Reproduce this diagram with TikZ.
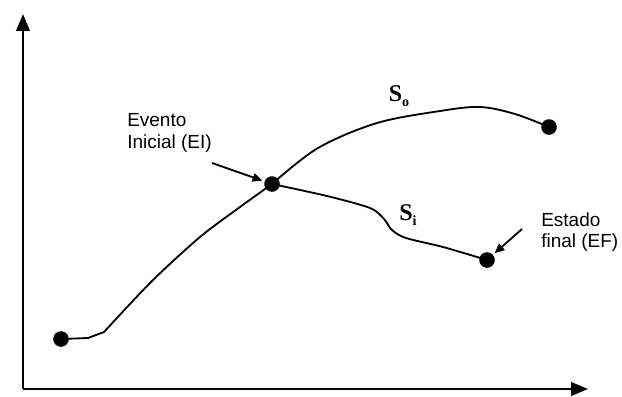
\documentclass[tikz,border=0pt]{standalone}
\usepackage{fontspec}
\setmainfont{Liberation Sans}
\newfontfamily\timesfont{Liberation Serif}
\usetikzlibrary{arrows.meta}

\begin{document}
\begin{tikzpicture}[x=0.025cm, y=-0.025cm, line join=round,
  font=\fontsize{13.5}{15.6}\selectfont,
  dot/.style={circle, fill=black, inner sep=0pt, minimum size=0.39cm},
  curve/.style={line width=1.3pt},
  axis/.style={line width=1.9pt, -{Triangle[length=12pt, width=9.5pt]}},
  pointer/.style={line width=1.3pt, shorten >=1.5pt, -{Triangle[length=7pt, width=6pt]}},
  lbl/.style={anchor=north west, align=left, inner sep=0pt},
  sname/.style={inner sep=0pt, font=\timesfont\bfseries\fontsize{17}{17}\selectfont}]
  \useasboundingbox (0,0) rectangle (622,396);
  % axes
  \coordinate (origin) at (23,389);
  \coordinate (ytip) at (23,14);
  \coordinate (xtip) at (588,389);
  \draw[axis] (origin) -- (ytip);
  \draw[axis] (origin) -- (xtip);
  % states
  \node[dot] (start) at (61,339) {};
  \node[dot] (ei) at (272,184) {};
  \node[dot] (so) at (549,127) {};
  \node[dot] (ef) at (487,260) {};
  % trajectories
  \draw[curve] (start.center) -- (88,338) -- (104,332)
    plot[smooth, tension=0.5] coordinates {(104,332) (152,281)
      (200,237) (240,207) (ei.center)};
  \draw[curve] plot[smooth, tension=0.55] coordinates {(ei.center) (318,148)
    (377,123) (440,111) (480,107) (515,114) (so.center)};
  \draw[curve] plot[smooth, tension=0.5] coordinates {(ei.center) (327,196)
    (370,208) (384,219) (392,230) (406,238) (443,247) (ef.center)};
  \node[sname] (sonm) at (399,96) {S\raisebox{-3.5pt}{\fontsize{10}{10}\selectfont o}};
  \node[sname] (sinm) at (408,215) {S\raisebox{-3.5pt}{\fontsize{10}{10}\selectfont i}};
  % labels
  \node[lbl] (evento) at (127,113) {Evento\\Inicial (EI)};
  \node[lbl] (estado) at (541,212) {Estado\\final (EF)};
  \coordinate (eitail) at (212,163);
  \coordinate (eftail) at (522,229);
  \draw[pointer] (eitail) -- (ei);
  \draw[pointer] (eftail) -- (ef);
\end{tikzpicture}
\end{document}
